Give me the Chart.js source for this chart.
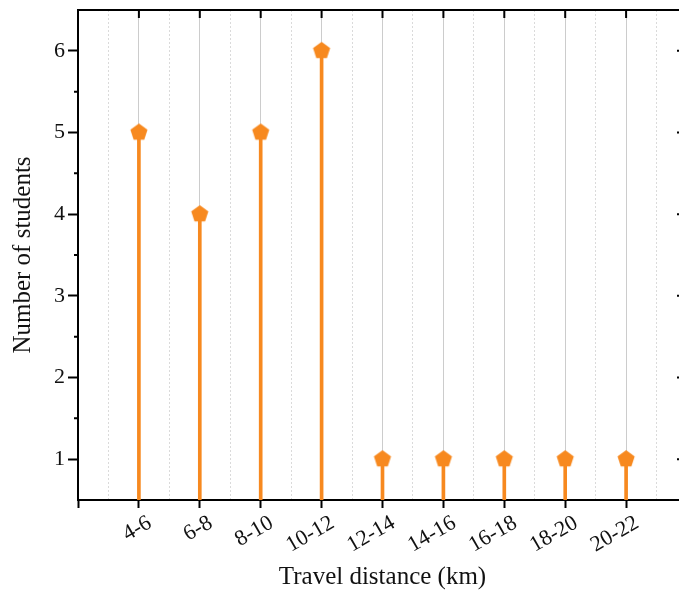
<!DOCTYPE html>
<html>
<head>
<meta charset="utf-8">
<script src="https://cdn.jsdelivr.net/npm/chart.js@4.4.1/dist/chart.umd.min.js"></script>
<style>
  html, body { margin: 0; padding: 0; overflow: hidden; background: #fff; }
  canvas { display: block; }
</style>
</head>
<body>
<canvas id="chart" width="700" height="592"></canvas>
<script>
// data
const categories = ["4-6", "6-8", "8-10", "10-12", "12-14", "14-16", "16-18", "18-20", "20-22"];
const students = [5, 4, 5, 6, 1, 1, 1, 1, 1];
const yTicks = [1, 2, 3, 4, 5, 6];

const ORANGE = "#f7891f";
const FONT = "'Liberation Serif', 'Times New Roman', serif";

const points = categories.map((c, i) => ({ x: i, y: students[i] }));

// pentagon marker (Chart.js has no built-in one)
function pentagon(r, color) {
    const c = document.createElement("canvas");
    const s = Math.ceil(2 * r + 2);
    c.width = c.height = s;
    const g = c.getContext("2d");
    g.fillStyle = color;
    g.beginPath();
    for (let i = 0; i < 5; i++) {
        const a = -Math.PI / 2 + i * 2 * Math.PI / 5;
        const px = s / 2 + r * Math.cos(a), py = s / 2 + r * Math.sin(a);
        if (i) g.lineTo(px, py); else g.moveTo(px, py);
    }
    g.closePath();
    g.fill();
    return c;
}

const isInt = v => Math.abs(v - Math.round(v)) < 1e-6;

// top/right frame lines plus inward ticks, and minor ticks on the left axis
const framePlugin = {
    id: "frame",
    afterDraw(chart) {
        const { ctx, chartArea: a, scales: { x, y } } = chart;
        ctx.save();
        ctx.strokeStyle = "#000";
        ctx.lineWidth = 2;
        ctx.beginPath();
        ctx.moveTo(a.left - 1, a.top);
        ctx.lineTo(a.right, a.top);
        ctx.lineTo(a.right, a.bottom);
        categories.forEach((c, i) => {
            const px = x.getPixelForValue(i);
            ctx.moveTo(px, a.top);
            ctx.lineTo(px, a.top + 8);
        });
        yTicks.forEach(v => {
            const py = y.getPixelForValue(v);
            ctx.moveTo(a.right, py);
            ctx.lineTo(a.right - 10, py);
        });
        yTicks.forEach(v => {
            if (v - 0.5 > y.min) {
                const py = y.getPixelForValue(v - 0.5);
                ctx.moveTo(a.left, py);
                ctx.lineTo(a.left - 4, py);
            }
        });
        ctx.stroke();
        ctx.restore();
    }
};

new Chart(document.getElementById("chart"), {
    type: "bar",
    data: {
        datasets: [
            {
                type: "scatter",
                data: points,
                pointStyle: pentagon(9, ORANGE),
                pointRadius: 9,
                order: 0,
            },
            {
                type: "bar",
                data: points,
                backgroundColor: ORANGE,
                borderWidth: 0,
                barThickness: 3,
                order: 1,
            },
        ],
    },
    options: {
        responsive: false,
        animation: false,
        layout: { padding: { top: 10, right: 13, left: 0, bottom: 0 } },
        plugins: {
            legend: { display: false },
            tooltip: { enabled: false },
        },
        scales: {
            x: {
                type: "linear",
                offset: false,
                min: -1,
                max: 9,
                afterFit: s => {
                    s.height = 92;
                    s.paddingLeft = 0;
                    s.paddingRight = 0;
                },
                ticks: {
                    stepSize: 0.5,
                    autoSkip: false,
                    minRotation: 30,
                    maxRotation: 30,
                    labelOffset: 11,
                    padding: 2,
                    color: "#111",
                    font: { family: FONT, size: 22 },
                    callback: v => (isInt(v) && v >= 0 && v < categories.length) ? categories[Math.round(v)] : "",
                },
                grid: {
                    offset: false,
                    lineWidth: 1,
                    color: c => {
                        if (!c.tick) return "transparent";
                        const v = c.tick.value;
                        if (v <= -1 || v >= 9) return "transparent";
                        return isInt(v) ? "#cccccc" : "#dadada";
                    },
                    tickLength: 8,
                    tickWidth: 2,
                    tickColor: c => (c.tick && isInt(c.tick.value)) ? "#000" : "transparent",
                },
                border: {
                    color: "#000",
                    width: 2,
                    dash: c => (c.tick && !isInt(c.tick.value)) ? [2, 2] : [],
                },
                title: {
                    display: true,
                    text: "Travel distance (km)",
                    color: "#111",
                    font: { family: FONT, size: 25 },
                    padding: { top: 0, bottom: 0 },
                },
            },
            y: {
                min: 0.5,
                max: 6.5,
                afterFit: s => {
                    s.width = 78;
                    s.paddingTop = 0;
                    s.paddingBottom = 0;
                },
                ticks: {
                    stepSize: 0.5,
                    autoSkip: false,
                    padding: 3,
                    color: "#111",
                    font: { family: FONT, size: 22 },
                    callback: v => (isInt(v) && yTicks.includes(Math.round(v))) ? String(Math.round(v)) : "",
                },
                grid: {
                    drawOnChartArea: false,
                    tickLength: 10,
                    tickWidth: 2,
                    tickColor: c => (c.tick && isInt(c.tick.value) && yTicks.includes(Math.round(c.tick.value))) ? "#000" : "transparent",
                },
                border: { color: "#000", width: 2 },
                title: {
                    display: true,
                    text: "Number of students",
                    color: "#111",
                    font: { family: FONT, size: 25 },
                    padding: { top: 8, bottom: 0 },
                },
            },
        },
    },
    plugins: [framePlugin],
});
</script>
</body>
</html>
